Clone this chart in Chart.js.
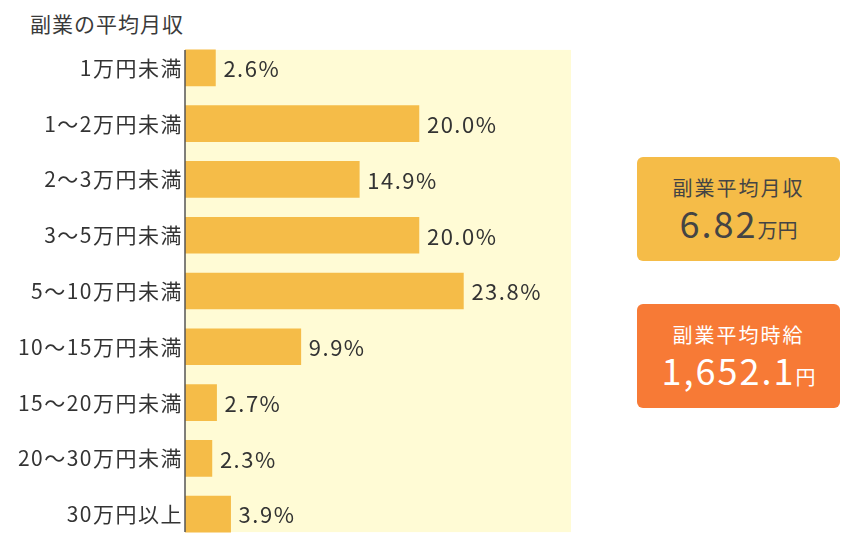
<!DOCTYPE html>
<html lang="ja">
<head>
<meta charset="utf-8">
<script src="https://cdn.jsdelivr.net/npm/chart.js@4.4.1/dist/chart.umd.min.js"></script>
<style>
  html, body { margin: 0; padding: 0; background: #fff; }
  body { width: 850px; height: 543px; position: relative; overflow: hidden;
         font-family: "Noto Sans CJK JP", "Noto Sans", sans-serif; color: #3a3a3a; }
  #wrap { position: absolute; left: 0; top: 0; width: 600px; height: 543px; }
  #title { position: absolute; left: 30px; top: 8px; font-size: 21px; line-height: 30px; letter-spacing: 1px; }
  .box { position: absolute; left: 637px; width: 203px; height: 104px; border-radius: 6px;
         text-align: center; }
  .box .cap { font-size: 20px; line-height: 24px; margin-top: 19px; letter-spacing: 2px; }
  .box .num { font-size: 36px; line-height: 44px; letter-spacing: 2px; }
  .box .num small { font-size: 20px; letter-spacing: 0; }
  #box1 { top: 157px; background: #f5bc48; color: #444; }
  #box2 { top: 304px; background: #f77a36; color: #fff; }
</style>
</head>
<body>
<div id="title">副業の平均月収</div>
<div id="wrap"><canvas id="grafico"></canvas></div>
<div class="box" id="box1">
  <div class="cap">副業平均月収</div>
  <div class="num">6.82<small>万円</small></div>
</div>
<div class="box" id="box2">
  <div class="cap">副業平均時給</div>
  <div class="num">1,652.1<small>円</small></div>
</div>
<script>
// --- Datos ---
const categorias = ['1万円未満', '1〜2万円未満', '2〜3万円未満', '3〜5万円未満', '5〜10万円未満',
                    '10〜15万円未満', '15〜20万円未満', '20〜30万円未満', '30万円以上'];
const porcentajes = [2.6, 20.0, 14.9, 20.0, 23.8, 9.9, 2.7, 2.3, 3.9];
const ejeMax = 33;

const fuente = '"Noto Sans CJK JP", "Noto Sans", sans-serif';

// Fondo amarillo claro y línea del eje, desde la primera barra hasta la última.
const fondoPlugin = {
  id: 'fondo',
  beforeDraw(chart) {
    chart.ctx.letterSpacing = '1.5px';
  },
  beforeDatasetsDraw(chart) {
    const { ctx, chartArea, scales } = chart;
    const barras = chart.getDatasetMeta(0).data;
    const top = barras[0].y - barras[0].height / 2;
    const bottom = barras[barras.length - 1].y + barras[barras.length - 1].height / 2;
    const right = scales.x.getPixelForValue(ejeMax);
    ctx.save();
    ctx.fillStyle = '#fffbd5';
    ctx.fillRect(chartArea.left, top, right - chartArea.left, bottom - top);
    ctx.restore();
  },
  afterDatasetsDraw(chart) {
    const { ctx, chartArea } = chart;
    const barras = chart.getDatasetMeta(0).data;
    const top = barras[0].y - barras[0].height / 2;
    const bottom = barras[barras.length - 1].y + barras[barras.length - 1].height / 2;
    ctx.save();
    ctx.strokeStyle = '#555';
    ctx.lineWidth = 1.5;
    ctx.beginPath();
    ctx.moveTo(chartArea.left, top);
    ctx.lineTo(chartArea.left, bottom);
    ctx.stroke();
    // Etiquetas de porcentaje al final de cada barra.
    ctx.fillStyle = '#333';
    ctx.font = '22px ' + fuente;
    ctx.letterSpacing = '1.5px';
    ctx.textBaseline = 'middle';
    barras.forEach((b, i) => {
      ctx.fillText(porcentajes[i].toFixed(1) + '%', b.x + 8, b.y + 1);
    });
    ctx.restore();
  }
};

new Chart(document.getElementById('grafico'), {
  type: 'bar',
  data: {
    labels: categorias,
    datasets: [{
      data: porcentajes,
      backgroundColor: '#f5bc48',
      barThickness: 36
    }]
  },
  options: {
    indexAxis: 'y',
    responsive: true,
    maintainAspectRatio: false,
    animation: false,
    layout: { padding: { top: 40, bottom: 1, left: 0, right: 29 } },
    plugins: { legend: { display: false }, tooltip: { enabled: false } },
    scales: {
      x: { display: false, min: 0, max: ejeMax },
      y: {
        grid: { display: false, drawTicks: false },
        border: { display: false },
        afterFit: (s) => { s.width = 185; s.paddingTop = 0; s.paddingBottom = 0; },
        ticks: {
          padding: 2,
          color: '#333',
          font: { size: 21, family: fuente }
        }
      }
    }
  },
  plugins: [fondoPlugin]
});
</script>
</body>
</html>
